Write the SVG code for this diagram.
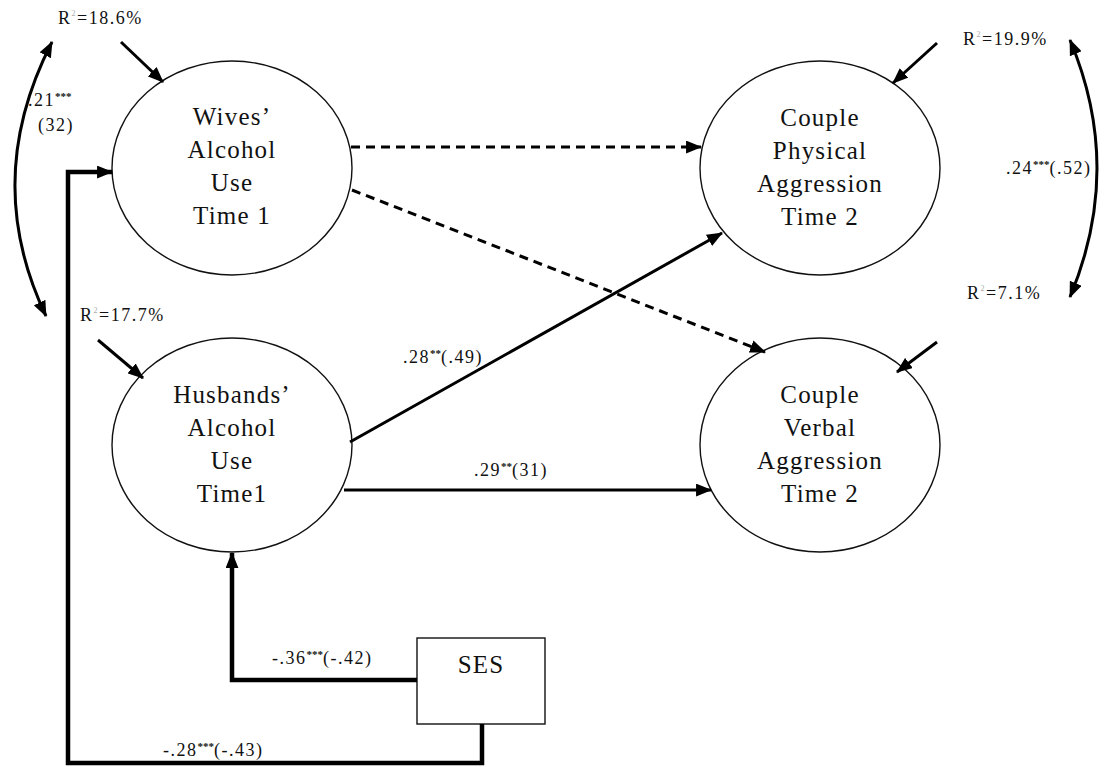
<svg xmlns="http://www.w3.org/2000/svg" width="1107" height="767" viewBox="0 0 1107 767">
  <style>
    .node { fill: #fff; stroke: #111; stroke-width: 1.4; }
    .nlabel { font-family: "Liberation Serif", "Times New Roman", serif; font-size: 25px; letter-spacing: 1.2px; fill: #111; text-anchor: middle; }
    .lbl { font-family: "Liberation Serif", "Times New Roman", serif; font-size: 18px; letter-spacing: 1.5px; fill: #111; }
    .sup { font-size: 11px; font-weight: bold; letter-spacing: 0; }
    .r2 { font-size: 8px; fill: #aaa; }
    .path { fill: none; stroke: #000; stroke-width: 3; }
    .dash { fill: none; stroke: #000; stroke-width: 3; stroke-dasharray: 9 6; }
    .ses { fill: none; stroke: #000; stroke-width: 4.5; }
  </style>
  <defs>
    <marker id="head" viewBox="0 0 15 12" refX="14" refY="6" markerWidth="16" markerHeight="13" markerUnits="userSpaceOnUse" orient="auto-start-reverse">
      <path d="M0,0 L15,6 L0,12 z" fill="#000"/>
    </marker>
  </defs>
  <rect width="1107" height="767" fill="#fff"/>

  <!-- latent variables -->
  <g id="wives">
    <ellipse class="node" cx="232" cy="168" rx="120" ry="107"/>
    <text class="nlabel"><tspan x="232" y="125">Wives’</tspan><tspan x="232" y="158">Alcohol</tspan><tspan x="232" y="191">Use</tspan><tspan x="232" y="224">Time 1</tspan></text>
  </g>
  <g id="husbands">
    <ellipse class="node" cx="232" cy="445" rx="120" ry="107"/>
    <text class="nlabel"><tspan x="232" y="403">Husbands’</tspan><tspan x="232" y="436">Alcohol</tspan><tspan x="232" y="469">Use</tspan><tspan x="232" y="502">Time1</tspan></text>
  </g>
  <g id="physical">
    <ellipse class="node" cx="820" cy="168" rx="120" ry="107"/>
    <text class="nlabel"><tspan x="820" y="126">Couple</tspan><tspan x="820" y="159">Physical</tspan><tspan x="820" y="192">Aggression</tspan><tspan x="820" y="225">Time 2</tspan></text>
  </g>
  <g id="verbal">
    <ellipse class="node" cx="820" cy="445" rx="120" ry="107"/>
    <text class="nlabel"><tspan x="820" y="403">Couple</tspan><tspan x="820" y="436">Verbal</tspan><tspan x="820" y="469">Aggression</tspan><tspan x="820" y="502">Time 2</tspan></text>
  </g>
  <g id="ses">
    <rect class="node" x="417" y="638" width="128" height="86"/>
    <text class="nlabel" x="481" y="673">SES</text>
  </g>

  <!-- paths, residual arrows and covariances -->
  <g id="connectors">
    <line class="dash" x1="351" y1="147" x2="701" y2="147" marker-end="url(#head)"/>
    <line class="dash" x1="352" y1="190" x2="765" y2="352" marker-end="url(#head)"/>
    <line class="path" x1="350" y1="442" x2="722" y2="233" marker-end="url(#head)"/>
    <line class="path" x1="344" y1="490" x2="711" y2="490" marker-end="url(#head)"/>

    <line class="path" x1="121" y1="42" x2="163" y2="82" marker-end="url(#head)"/>
    <line class="path" x1="98" y1="340" x2="143" y2="378" marker-end="url(#head)"/>
    <line class="path" x1="937" y1="43" x2="893" y2="83" marker-end="url(#head)"/>
    <line class="path" x1="937" y1="342" x2="897" y2="372" marker-end="url(#head)"/>

    <path class="path" d="M52,42 Q-19,180 46,316" marker-start="url(#head)" marker-end="url(#head)"/>
    <path class="path" d="M1070,40 Q1124,168 1070,297" marker-start="url(#head)" marker-end="url(#head)"/>

    <polyline class="ses" points="417,680 232,680 232,553" marker-end="url(#head)"/>
    <polyline class="ses" points="482,724 482,763 68,763 68,172 112,172" marker-end="url(#head)"/>
  </g>

  <!-- coefficients and explained variance -->
  <g id="labels">
    <text class="lbl" x="58" y="24">R<tspan class="r2" dy="-8">2</tspan><tspan dy="8">=18.6%</tspan></text>
    <text class="lbl" x="80" y="321">R<tspan class="r2" dy="-8">2</tspan><tspan dy="8">=17.7%</tspan></text>
    <text class="lbl" x="963" y="45">R<tspan class="r2" dy="-8">2</tspan><tspan dy="8">=19.9%</tspan></text>
    <text class="lbl" x="967" y="299">R<tspan class="r2" dy="-8">2</tspan><tspan dy="8">=7.1%</tspan></text>

    <text class="lbl" x="28" y="106">.21<tspan class="sup" dy="-6">***</tspan></text>
    <text class="lbl" x="38" y="131">(32)</text>
    <text class="lbl" x="403" y="363">.28<tspan class="sup" dy="-6">**</tspan><tspan dy="6">(.49)</tspan></text>
    <text class="lbl" x="474" y="476">.29<tspan class="sup" dy="-6">**</tspan><tspan dy="6">(31)</tspan></text>
    <text class="lbl" x="1006" y="174">.24<tspan class="sup" dy="-6">***</tspan><tspan dy="6">(.52)</tspan></text>
    <text class="lbl" x="272" y="664">-.36<tspan class="sup" dy="-6">***</tspan><tspan dy="6">(-.42)</tspan></text>
    <text class="lbl" x="163" y="756">-.28<tspan class="sup" dy="-6">***</tspan><tspan dy="6">(-.43)</tspan></text>
  </g>
</svg>
